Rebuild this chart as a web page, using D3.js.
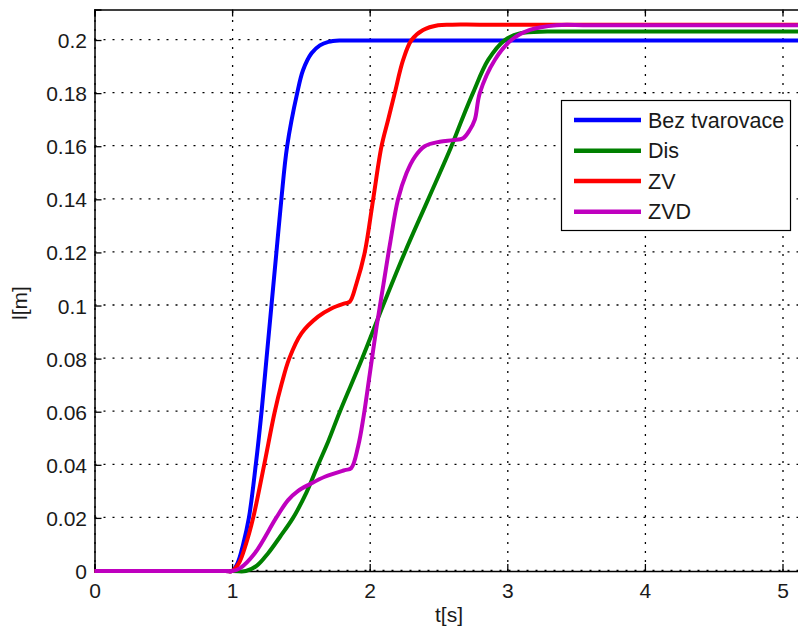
<!DOCTYPE html>
<html>
<head>
<meta charset="utf-8">
<script src="https://cdn.jsdelivr.net/npm/d3@7"></script>
<style>
  html, body { margin: 0; padding: 0; background: #fff; }
  svg { display: block; }
  text { font-family: "Liberation Sans", Arial, sans-serif; fill: #1a1a1a; }
</style>
</head>
<body>
<svg id="chart" width="798" height="631"></svg>
<script>
// ---- data ----
const xTicks = [0, 1, 2, 3, 4, 5];
const yTicks = [0, 0.02, 0.04, 0.06, 0.08, 0.1, 0.12, 0.14, 0.16, 0.18, 0.2];
const yTickLabels = ["0", "0.02", "0.04", "0.06", "0.08", "0.1", "0.12", "0.14", "0.16", "0.18", "0.2"];
const seriesNames = ["Bez tvarovace", "Dis", "ZV", "ZVD"];
const seriesColors = ["#0000ff", "#008000", "#ff0000", "#bf00bf"];

const tBez = [0, 0.95, 1.0, 1.04, 1.08, 1.122, 1.172, 1.214, 1.25, 1.286, 1.322, 1.358, 1.40, 1.473, 1.516, 1.577, 1.638, 1.70, 1.78, 1.95, 5.3];
const vBez = [0, 0, 0, 0.003, 0.01, 0.02, 0.04, 0.06, 0.08, 0.1, 0.12, 0.14, 0.16, 0.18, 0.1887, 0.195, 0.198, 0.1993, 0.1998, 0.1998, 0.1998];

const tDis = [0, 1.0, 1.1, 1.18, 1.262, 1.35, 1.443, 1.54, 1.625, 1.70, 1.783, 1.945, 2.097, 2.255, 2.425, 2.594, 2.67, 2.75, 2.861, 2.982, 3.09, 3.29, 3.5, 5.3];
const vDis = [0, 0, 0, 0.002, 0.0067, 0.013, 0.02, 0.0295, 0.04, 0.049, 0.06, 0.08, 0.1, 0.12, 0.14, 0.16, 0.17, 0.18, 0.1925, 0.2, 0.2025, 0.2032, 0.2032, 0.2032];

const tZV = [0, 0.95, 1.0, 1.05, 1.10, 1.153, 1.233, 1.31, 1.36, 1.415, 1.504, 1.625, 1.722, 1.819, 1.855, 1.904, 1.964, 2.025, 2.086, 2.134, 2.182, 2.243, 2.304, 2.388, 2.497, 2.6, 2.8, 5.3];
const vZV = [0, 0, 0, 0.003, 0.01, 0.02, 0.04, 0.06, 0.0705, 0.08, 0.0895, 0.0958, 0.0989, 0.1008, 0.1014, 0.1083, 0.12, 0.14, 0.16, 0.17, 0.18, 0.1925, 0.2, 0.2038, 0.2056, 0.2058, 0.2058, 0.2058];

const tZVD = [0, 0.95, 1.0, 1.056, 1.165, 1.32, 1.407, 1.48, 1.565, 1.674, 1.819, 1.865, 1.916, 1.955, 2.0, 2.05, 2.1, 2.15, 2.206, 2.267, 2.328, 2.4, 2.509, 2.606, 2.679, 2.727, 2.764, 2.8, 2.909, 3.03, 3.164, 3.357, 3.6, 5.3];
const vZVD = [0, 0, 0, 0.001, 0.0067, 0.02, 0.0267, 0.0302, 0.0327, 0.0355, 0.038, 0.0387, 0.047, 0.058, 0.074, 0.092, 0.108, 0.124, 0.14, 0.1498, 0.156, 0.16, 0.1617, 0.1623, 0.163, 0.1661, 0.17, 0.18, 0.1925, 0.2, 0.2038, 0.2056, 0.2056, 0.2056];

const seriesT = [tBez, tDis, tZV, tZVD];
const seriesV = [vBez, vDis, vZV, vZVD];

// ---- layout ----
const W = 798, H = 631;
const plotLeft = 94.5, plotTop = 9.5, plotBottom = 571;
const xMax = 5.2, yMax = 0.2115;

const svg = d3.select("#chart");
svg.append("rect").attr("width", W).attr("height", H).attr("fill", "#fff");

const x = d3.scaleLinear().domain([0, xMax]).range([plotLeft, plotLeft + xMax * 137.6]);
const y = d3.scaleLinear().domain([0, yMax]).range([plotBottom, plotTop]);
const plotRight = x(xMax);

svg.append("defs").append("clipPath").attr("id", "plotclip")
  .append("rect").attr("x", plotLeft).attr("y", plotTop).attr("width", plotRight - plotLeft).attr("height", plotBottom - plotTop + 3);

// grid
const grid = svg.append("g").attr("stroke", "#000").attr("stroke-width", 1.3)
  .attr("stroke-dasharray", "2,7").attr("fill", "none");
xTicks.forEach(t => {
  grid.append("line").attr("x1", x(t) + 0.5).attr("x2", x(t) + 0.5).attr("y1", plotBottom).attr("y2", plotTop);
});
yTicks.forEach(v => {
  grid.append("line").attr("x1", plotLeft).attr("x2", plotRight).attr("y1", y(v) - 0.5).attr("y2", y(v) - 0.5);
});

// axes using d3 axis generators (inward ticks)
const xAxis = d3.axisBottom(x).tickValues(xTicks).tickSize(-7).tickPadding(12).tickFormat(d3.format("d"));
const yAxis = d3.axisLeft(y).tickValues(yTicks).tickSize(-7).tickPadding(7.5)
  .tickFormat((d, i) => yTickLabels[i]);
const xTop = d3.axisTop(x).tickValues(xTicks).tickSize(-7).tickFormat("");

const gx = svg.append("g").attr("transform", `translate(0,${plotBottom})`).call(xAxis);
const gy = svg.append("g").attr("transform", `translate(${plotLeft},0)`).call(yAxis);
const gt = svg.append("g").attr("transform", `translate(0,${plotTop})`).call(xTop);
[gx, gy, gt].forEach(g => {
  g.select(".domain").attr("stroke", "#000").attr("stroke-width", 1.5);
  g.selectAll(".tick line").attr("stroke", "#000").attr("stroke-width", 1.3);
  g.selectAll(".tick text").style("font-size", "21px").attr("fill", "#1a1a1a")
    .style("font-family", '"Liberation Sans", Arial, sans-serif');
});
gy.selectAll(".tick text").attr("dy", "0.36em");
gx.selectAll(".tick text").attr("dy", "0.71em");

// lines
const line = d3.line().curve(d3.curveCatmullRom.alpha(0.5)).x(d => x(d[0])).y(d => y(d[1]));
const lines = svg.append("g").attr("clip-path", "url(#plotclip)");
seriesT.forEach((ts, i) => {
  const pts = ts.map((t, j) => [t, seriesV[i][j]]);
  lines.append("path").datum(pts).attr("d", line)
    .attr("fill", "none").attr("stroke", seriesColors[i])
    .attr("stroke-width", 4).attr("stroke-linejoin", "round").attr("stroke-linecap", "round");
});

// axis labels
svg.append("text").attr("x", 449).attr("y", 622).attr("text-anchor", "middle")
  .style("font-size", "21px").text("t[s]");
svg.append("text").attr("transform", "translate(27,303) rotate(-90)").attr("text-anchor", "middle")
  .style("font-size", "21px").text("l[m]");

// legend
const lg = svg.append("g");
lg.append("rect").attr("x", 561.5).attr("y", 100.5).attr("width", 229).attr("height", 130)
  .attr("fill", "#fff").attr("stroke", "#000").attr("stroke-width", 1.2);
const rowY = [120, 150.7, 181, 211.7];
seriesNames.forEach((name, i) => {
  lg.append("line").attr("x1", 574).attr("x2", 641).attr("y1", rowY[i]).attr("y2", rowY[i])
    .attr("stroke", seriesColors[i]).attr("stroke-width", 4.5);
  lg.append("text").attr("x", 648).attr("y", rowY[i]).attr("dy", "0.36em")
    .style("font-size", "21.5px").text(name);
});
</script>
</body>
</html>
